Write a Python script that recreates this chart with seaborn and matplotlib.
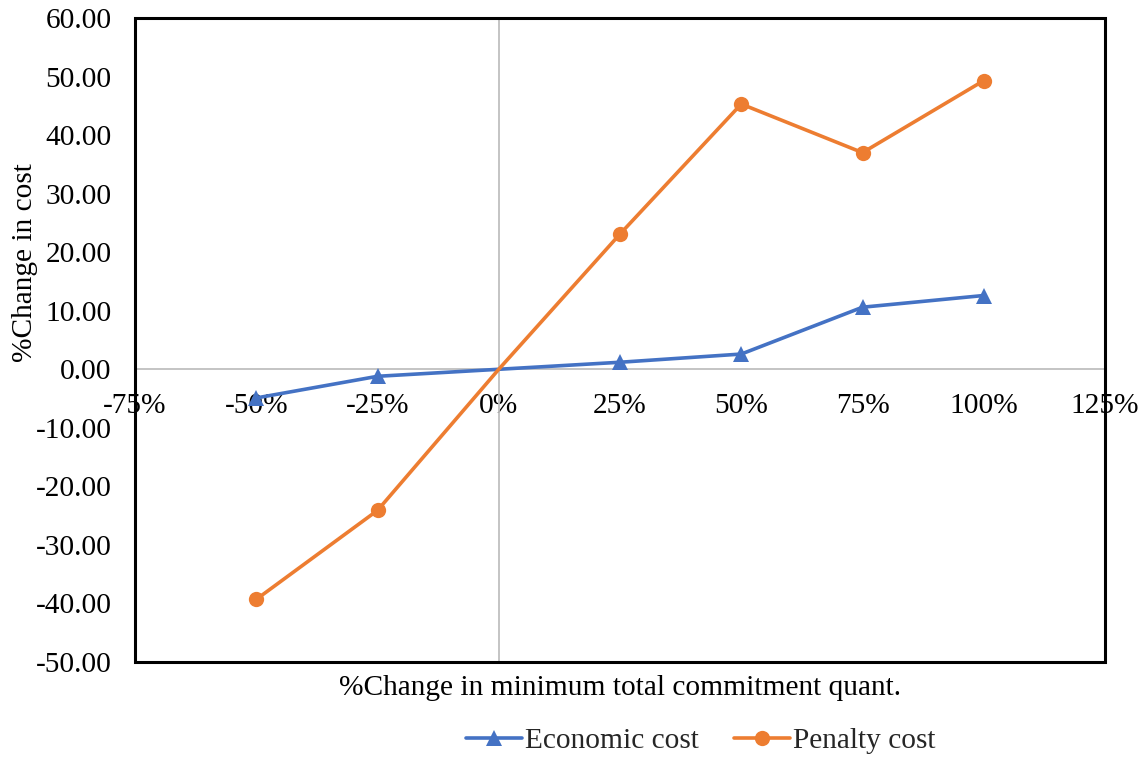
import matplotlib
matplotlib.use("Agg")
import matplotlib.pyplot as plt
from matplotlib.patches import Rectangle
from matplotlib.ticker import FuncFormatter, MultipleLocator
import pandas as pd
import seaborn as sns

# % change in minimum total commitment quantity
commitment_change = [-50, -25, 0, 25, 50, 75, 100]
economic_cost = [-4.9, -1.2, 0.0, 1.2, 2.6, 10.6, 12.6]
penalty_cost = [-39.3, -24.1, 0.0, 23.1, 45.3, 37.0, 49.3]
series_names = ["Economic cost", "Penalty cost"]

df = pd.DataFrame({
    "x": commitment_change * 2,
    "y": economic_cost + penalty_cost,
    "series": [series_names[0]] * len(commitment_change) + [series_names[1]] * len(commitment_change),
})

sns.set_theme(style="white")
plt.rcParams["font.family"] = ["Liberation Serif", "DejaVu Serif"]
FS = 21.2

fig = plt.figure(figsize=(11.47, 7.58), dpi=100)
ax = fig.add_axes([0.1177, 0.1266, 0.8457, 0.8497])

palette = {"Economic cost": "#4472C4", "Penalty cost": "#ED7D31"}
markers = {"Economic cost": "^", "Penalty cost": "o"}
# the baseline point (0 %) is drawn without a marker
marked = [i for i, v in enumerate(commitment_change) if v != 0]
sns.lineplot(data=df, x="x", y="y", hue="series", style="series",
             palette=palette, markers=markers, dashes=False,
             linewidth=2.6, markersize=11, markeredgewidth=0,
             markevery=marked, ax=ax, legend=False, zorder=3)

ax.set_xlim(-75, 125)
ax.set_ylim(-50, 60)
ax.xaxis.set_major_locator(MultipleLocator(25))
ax.yaxis.set_major_locator(MultipleLocator(10))
ax.xaxis.set_major_formatter(FuncFormatter(lambda v, p: f"{int(round(v))}%"))
ax.yaxis.set_major_formatter(FuncFormatter(lambda v, p: f"{v:.2f}"))

# horizontal axis runs through zero; vertical grey line at x = 0
ax.spines["bottom"].set_position(("data", 0))
ax.spines["bottom"].set_color("#BFBFBF")
ax.spines["bottom"].set_linewidth(1.3)
ax.spines["bottom"].set_zorder(1)
ax.axvline(0, color="#BFBFBF", lw=1.3, zorder=1)
for s in ["top", "right", "left"]:
    ax.spines[s].set_visible(False)
ax.add_patch(Rectangle((0, 0), 1, 1, transform=ax.transAxes, fill=False,
                       edgecolor="black", lw=2.2, clip_on=False, zorder=5))

ax.tick_params(axis="x", length=0, pad=17, labelsize=FS, colors="black")
ax.tick_params(axis="y", length=0, pad=17, labelsize=FS, colors="black")

ax.set_xlabel("%Change in minimum total commitment quant.", fontsize=FS, color="black")
ax.xaxis.set_label_coords(0.5, -0.02)
ax.set_ylabel("%Change in cost", fontsize=FS, color="black")
ax.yaxis.set_label_coords(-0.1, 0.62)

handles = [
    plt.Line2D([], [], color=palette[n], marker=markers[n], lw=2.6, markersize=11,
               markeredgewidth=0)
    for n in series_names
]
fig.legend(handles, series_names, loc="center", bbox_to_anchor=(701 / 1147, 1 - 741 / 758),
           ncol=2, frameon=False, fontsize=FS, handlelength=1.9, columnspacing=1.2,
           handletextpad=0.1)

fig.savefig("out.png", dpi=100)
